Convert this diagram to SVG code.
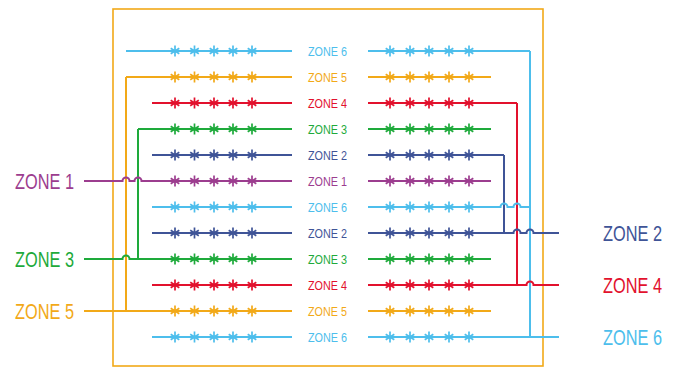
<svg xmlns="http://www.w3.org/2000/svg" xmlns:xlink="http://www.w3.org/1999/xlink" width="676" height="368" viewBox="0 0 676 368">
<style>
path{fill:none}
.w{stroke-width:2;stroke-linecap:butt;stroke-linejoin:miter}
.lbl{font-family:"Liberation Sans",Arial,sans-serif;font-size:12.5px;fill:currentColor}
.ext{font-family:"Liberation Sans",Arial,sans-serif;font-size:21.5px;fill:currentColor}
.z1{stroke:#9C3D8F;color:#9C3D8F}
.z2{stroke:#3F5497;color:#3F5497}
.z3{stroke:#1EAA3B;color:#1EAA3B}
.z4{stroke:#E2112D;color:#E2112D}
.z5{stroke:#F2A918;color:#F2A918}
.z6{stroke:#4DBEEC;color:#4DBEEC}
text{stroke:none}
</style>
<defs>
<g id="st" fill="none" stroke="currentColor" stroke-width="1.7">
<path d="M0,-5.5V5.5M-4.3,-2.8L4.3,2.8M-4.3,2.8L4.3,-2.8"/>
</g>
<g id="stars">
<use xlink:href="#st" x="175"/><use xlink:href="#st" x="194.5"/><use xlink:href="#st" x="214"/><use xlink:href="#st" x="233"/><use xlink:href="#st" x="252"/>
<use xlink:href="#st" x="390"/><use xlink:href="#st" x="410"/><use xlink:href="#st" x="429"/><use xlink:href="#st" x="449"/><use xlink:href="#st" x="469"/>
</g>
</defs>
<rect id="frame" x="113" y="9" width="430" height="357" fill="none" stroke="#F2A918" stroke-width="1.6"/>
<g id="connectors" class="w">
<path class="z5" d="M126,77V311"/>
<path class="z3" d="M138,129V259"/>
<path class="z2" d="M504,155V233"/>
<path class="z4" d="M517,103V285"/>
<path class="z6" d="M530,51V337"/>
<path class="z1" d="M84,181H122.5A3.5,3.5 0 0 1 129.5,181H134.5A3.5,3.5 0 0 1 141.5,181H152"/>
<path class="z3" d="M84,259H122.5A3.5,3.5 0 0 1 129.5,259H138"/>
<path class="z5" d="M84,311H152"/>
<path class="z6" d="M491,207H500.5A3.5,3.5 0 0 1 507.5,207H513.5A3.5,3.5 0 0 1 520.5,207H530"/>
<path class="z2" d="M491,233H513.5A3.5,3.5 0 0 1 520.5,233H526.5A3.5,3.5 0 0 1 533.5,233H559"/>
<path class="z4" d="M491,285H526.5A3.5,3.5 0 0 1 533.5,285H559"/>
<path class="z6" d="M491,337H559"/>
<path class="z6" d="M491,51H530"/>
<path class="z4" d="M491,103H517"/>
<path class="z2" d="M491,155H504"/>
<path class="z5" d="M126,77H152"/>
<path class="z6" d="M126,51H152"/>
<path class="z3" d="M138,129H152"/>
</g>
<g id="row1" class="z6"><path class="w" d="M152,51H292M368,51H491"/><use xlink:href="#stars" y="51"/><text class="lbl" x="308" y="56" textLength="39" lengthAdjust="spacingAndGlyphs">ZONE 6</text></g>
<g id="row2" class="z5"><path class="w" d="M152,77H292M368,77H491"/><use xlink:href="#stars" y="77"/><text class="lbl" x="308" y="82" textLength="39" lengthAdjust="spacingAndGlyphs">ZONE 5</text></g>
<g id="row3" class="z4"><path class="w" d="M152,103H292M368,103H491"/><use xlink:href="#stars" y="103"/><text class="lbl" x="308" y="108" textLength="39" lengthAdjust="spacingAndGlyphs">ZONE 4</text></g>
<g id="row4" class="z3"><path class="w" d="M152,129H292M368,129H491"/><use xlink:href="#stars" y="129"/><text class="lbl" x="308" y="134" textLength="39" lengthAdjust="spacingAndGlyphs">ZONE 3</text></g>
<g id="row5" class="z2"><path class="w" d="M152,155H292M368,155H491"/><use xlink:href="#stars" y="155"/><text class="lbl" x="308" y="160" textLength="39" lengthAdjust="spacingAndGlyphs">ZONE 2</text></g>
<g id="row6" class="z1"><path class="w" d="M152,181H292M368,181H491"/><use xlink:href="#stars" y="181"/><text class="lbl" x="308" y="186" textLength="39" lengthAdjust="spacingAndGlyphs">ZONE 1</text></g>
<g id="row7" class="z6"><path class="w" d="M152,207H292M368,207H491"/><use xlink:href="#stars" y="207"/><text class="lbl" x="308" y="212" textLength="39" lengthAdjust="spacingAndGlyphs">ZONE 6</text></g>
<g id="row8" class="z2"><path class="w" d="M152,233H292M368,233H491"/><use xlink:href="#stars" y="233"/><text class="lbl" x="308" y="238" textLength="39" lengthAdjust="spacingAndGlyphs">ZONE 2</text></g>
<g id="row9" class="z3"><path class="w" d="M138,259H292M368,259H491"/><use xlink:href="#stars" y="259"/><text class="lbl" x="308" y="264" textLength="39" lengthAdjust="spacingAndGlyphs">ZONE 3</text></g>
<g id="row10" class="z4"><path class="w" d="M152,285H292M368,285H491"/><use xlink:href="#stars" y="285"/><text class="lbl" x="308" y="290" textLength="39" lengthAdjust="spacingAndGlyphs">ZONE 4</text></g>
<g id="row11" class="z5"><path class="w" d="M152,311H292M368,311H491"/><use xlink:href="#stars" y="311"/><text class="lbl" x="308" y="316" textLength="39" lengthAdjust="spacingAndGlyphs">ZONE 5</text></g>
<g id="row12" class="z6"><path class="w" d="M152,337H292M368,337H491"/><use xlink:href="#stars" y="337"/><text class="lbl" x="308" y="342" textLength="39" lengthAdjust="spacingAndGlyphs">ZONE 6</text></g>
<g id="in-zone1" class="z1"><text class="ext" transform="translate(15,189) scale(0.76,1)">ZONE 1</text></g>
<g id="in-zone3" class="z3"><text class="ext" transform="translate(15,267) scale(0.76,1)">ZONE 3</text></g>
<g id="in-zone5" class="z5"><text class="ext" transform="translate(15,319) scale(0.76,1)">ZONE 5</text></g>
<g id="out-zone2" class="z2"><text class="ext" transform="translate(603,241) scale(0.76,1)">ZONE 2</text></g>
<g id="out-zone4" class="z4"><text class="ext" transform="translate(603,293) scale(0.76,1)">ZONE 4</text></g>
<g id="out-zone6" class="z6"><text class="ext" transform="translate(603,345) scale(0.76,1)">ZONE 6</text></g>
</svg>
